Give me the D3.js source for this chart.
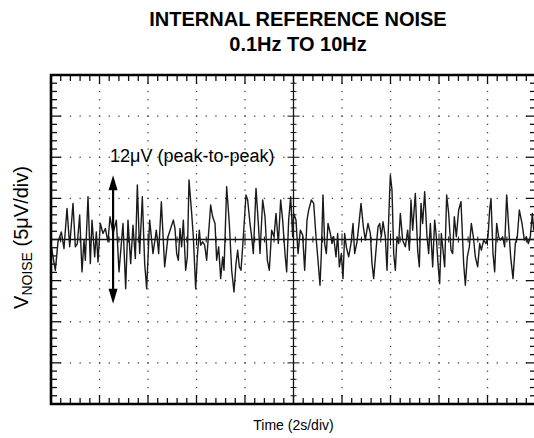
<!DOCTYPE html>
<html>
<head>
<meta charset="utf-8">
<script src="https://cdn.jsdelivr.net/npm/d3@7"></script>
<style>
  html, body { margin: 0; padding: 0; background: #fff; }
  svg { display: block; font-family: "Liberation Sans", Arial, Helvetica, sans-serif; }
</style>
</head>
<body>
<svg id="chart" width="534" height="438"></svg>
<script>
// ---- data ----
const titleLines = ["INTERNAL REFERENCE NOISE", "0.1Hz TO 10Hz"];
const xLabel = "Time (2s/div)";
const annotationText = "12\u03BCV (peak-to-peak)";
const timeDomain = [0, 20];        // seconds (10 div x 2s)
const voltDomain = [-20, 20];      // µV (8 div x 5µV)
const majorTimeStep = 2;
const majorVoltStep = 5;
const minorTimeStep = 0.4;
const minorVoltStep = 1;
const arrowTime = 2.56;
const arrowVolts = [7.8, -7.8];

const noiseTime = [
0.014,0.179,0.289,0.426,0.536,0.660,0.770,0.907,1.003,1.086,1.182,1.278,1.361,1.416,1.526,1.622,1.691,1.801,1.869,1.938,
2.034,2.144,2.241,2.351,2.433,2.557,2.694,2.804,2.969,3.079,3.175,3.285,3.381,3.478,3.560,3.656,3.766,3.863,3.945,4.069,
4.206,4.344,4.440,4.550,4.687,4.825,
5.045,5.113,5.182,5.251,5.320,5.388,5.457,5.553,5.622,5.691,5.801,5.869,5.966,6.034,6.117,6.172,6.254,6.337,6.419,6.488,
6.584,6.667,6.763,6.832,6.914,6.997,7.079,7.134,7.244,7.354,7.450,7.546,7.629,7.698,7.766,7.835,7.904,8.041,8.110,8.206,
8.275,8.344,8.454,8.550,8.619,8.729,8.825,8.921,9.003,9.100,9.196,9.278,9.375,9.471,9.553,9.649,9.718,9.801,9.883,9.966,
10.007,10.103,10.186,10.282,10.378,10.460,10.557,10.625,10.735,10.832,10.928,11.010,11.093,11.148,11.216,11.285,11.354,11.423,11.519,11.588,
11.656,11.753,11.821,11.890,11.973,12.041,12.110,12.179,12.275,12.371,12.454,12.522,12.619,12.687,12.784,12.880,12.962,13.072,13.168,13.237,
13.306,13.402,13.485,13.553,13.622,13.691,13.787,13.856,13.924,13.993,14.062,14.131,14.199,14.268,14.337,14.405,14.502,14.612,14.708,14.777,
14.845,14.914,
15.024,15.120,15.189,15.258,15.326,15.409,15.505,15.574,15.643,15.739,15.821,15.890,15.959,16.027,16.096,16.151,16.234,16.316,16.399,16.495,
16.564,16.632,16.715,16.811,16.907,17.017,17.086,17.168,17.251,17.333,17.416,17.498,17.594,17.677,17.746,17.842,17.938,18.021,18.089,18.144,
18.227,18.296,18.378,18.460,18.529,18.625,18.708,18.790,18.873,18.955,19.052,19.148,19.230,19.313,19.423,19.519,19.601,19.684,19.766,19.849,
19.904
];
const noiseUV = [
-0.89,-3.74,-0.28,0.93,-1.10,3.78,-0.89,4.39,-0.89,-0.49,2.97,-3.94,-0.08,-2.52,5.20,-2.93,2.36,-2.11,0.93,-2.72,
1.95,0.73,1.34,-0.28,2.76,0.73,2.36,-3.94,1.95,-5.98,2.36,-2.93,1.75,-2.32,6.63,-1.71,5.20,-2.93,-5.98,2.36,
-1.71,1.14,-1.71,4.59,-3.33,0.33,
2.36,1.34,-1.71,-2.52,1.34,-0.89,2.36,-3.74,-2.11,7.24,3.17,0.33,-5.98,-2.11,1.14,-0.69,-0.28,-0.69,-2.52,0.33,
4.19,2.76,1.95,-2.52,-0.89,-4.76,-2.11,-3.74,6.42,1.95,-3.74,-6.38,-2.93,-1.30,-3.33,-3.74,-0.89,5.41,4.80,1.95,
0.33,-1.71,6.22,1.95,-1.71,4.80,2.76,-2.52,-3.74,1.14,0.33,3.17,-0.49,4.80,2.36,-1.71,-3.94,2.36,5.20,0.33,
3.17,2.36,-1.71,1.14,0.53,-3.74,2.36,3.58,4.80,4.39,0.33,-2.52,-5.57,-1.71,5.41,-0.49,-1.71,1.95,0.73,-0.49,
0.33,-2.11,0.73,-3.33,-1.71,-4.76,0.73,-0.89,-2.11,-0.49,1.95,-1.71,-0.28,1.54,4.39,1.54,-0.08,1.95,0.73,-2.93,
-4.76,-1.30,1.54,1.95,0.33,2.15,0.33,-3.74,2.36,7.85,6.02,-1.71,-3.74,0.33,-0.49,3.17,-0.08,-0.89,1.14,-1.30,
4.80,1.14,
5.61,-1.30,-3.33,4.39,1.95,5.81,0.33,-1.71,1.95,-3.33,2.36,0.33,-2.93,-5.37,0.73,-0.89,-3.33,5.41,3.17,-1.30,
-1.71,2.76,0.33,3.58,4.59,-2.93,-5.57,-2.11,-0.89,1.95,0.33,-2.11,-3.33,-0.49,-1.30,-0.08,-0.49,0.33,3.58,5.00,
-1.71,-3.94,1.95,0.33,-0.08,0.33,-0.89,5.41,1.54,-2.11,-4.76,-0.49,0.33,3.58,1.95,-0.08,0.33,-0.49,0.33,3.17,
1.14
];

// ---- drawing ----
const svg = d3.select("#chart");
const margin = { left: 51, top: 75, right: 536, bottom: 404 };
const x = d3.scaleLinear().domain(timeDomain).range([margin.left, margin.right]);
const y = d3.scaleLinear().domain(voltDomain).range([margin.bottom, margin.top]);

const ink = "#111";

// titles
svg.append("g").selectAll("text").data(titleLines).join("text")
  .attr("x", 298).attr("y", (d, i) => 26 + i * 25)
  .attr("text-anchor", "middle")
  .attr("font-size", 20).attr("font-weight", "bold").attr("fill", "#000")
  .text(d => d);

// dotted grid
const majorTimes = d3.range(timeDomain[0] + majorTimeStep, timeDomain[1], majorTimeStep).filter(t => t !== 10);
const majorVolts = d3.range(voltDomain[0] + majorVoltStep, voltDomain[1], majorVoltStep).filter(v => v !== 0);
const minorTimes = d3.range(timeDomain[0], timeDomain[1] + 1e-9, minorTimeStep).map(v => +v.toFixed(2));
const minorVolts = d3.range(voltDomain[0], voltDomain[1] + 1e-9, minorVoltStep);

const dots = [];
majorTimes.forEach(t => minorVolts.forEach(v => { if (v > voltDomain[0] && v < voltDomain[1]) dots.push([t, v]); }));
majorVolts.forEach(v => minorTimes.forEach(t => { if (t > timeDomain[0] && t < timeDomain[1]) dots.push([t, v]); }));
svg.append("g").selectAll("rect").data(dots).join("rect")
  .attr("x", d => x(d[0]) - 0.6).attr("y", d => y(d[1]) - 0.6)
  .attr("width", 1.3).attr("height", 1.3).attr("fill", "#444");

// center cross
const g = svg.append("g").attr("stroke", ink).attr("fill", "none");
g.append("line").attr("x1", x(timeDomain[0])).attr("x2", x(timeDomain[1]))
  .attr("y1", y(0)).attr("y2", y(0)).attr("stroke-width", 1.3);
g.append("line").attr("x1", x(10)).attr("x2", x(10))
  .attr("y1", y(voltDomain[0])).attr("y2", y(voltDomain[1])).attr("stroke-width", 1.3);

// ticks on center axes
const isMajorT = t => Math.abs(t / majorTimeStep - Math.round(t / majorTimeStep)) < 1e-6;
const isMajorV = v => Math.abs(v / majorVoltStep - Math.round(v / majorVoltStep)) < 1e-6;
g.selectAll(".cvt").data(minorVolts).join("line")
  .attr("x1", v => x(10) - (isMajorV(v) ? 6 : 3)).attr("x2", v => x(10) + (isMajorV(v) ? 6 : 3))
  .attr("y1", v => y(v)).attr("y2", v => y(v)).attr("stroke-width", 1);
g.selectAll(".cht").data(minorTimes).join("line")
  .attr("x1", t => x(t)).attr("x2", t => x(t))
  .attr("y1", t => y(0) - (isMajorT(t) ? 6 : 3)).attr("y2", t => y(0) + (isMajorT(t) ? 6 : 3)).attr("stroke-width", 1);

// frame ticks
const tk = svg.append("g").attr("stroke", ink).attr("stroke-width", 1.3);
tk.selectAll(".lt").data(minorVolts).join("line")
  .attr("x1", x(0)).attr("x2", v => x(0) + (isMajorV(v) ? 10 : 6))
  .attr("y1", v => y(v)).attr("y2", v => y(v));
tk.selectAll(".rt").data(minorVolts).join("line")
  .attr("x1", x(20)).attr("x2", v => x(20) - (isMajorV(v) ? 10 : 6))
  .attr("y1", v => y(v)).attr("y2", v => y(v));
tk.selectAll(".bt").data(minorTimes).join("line")
  .attr("x1", t => x(t)).attr("x2", t => x(t))
  .attr("y1", y(voltDomain[0])).attr("y2", t => y(voltDomain[0]) - (isMajorT(t) ? 9 : 6));
tk.selectAll(".tt").data(minorTimes).join("line")
  .attr("x1", t => x(t)).attr("x2", t => x(t))
  .attr("y1", y(voltDomain[1])).attr("y2", t => y(voltDomain[1]) + (isMajorT(t) ? 9 : 6));

// noise trace
svg.append("defs").append("clipPath").attr("id", "clip")
  .append("rect").attr("x", x(0)).attr("y", y(20)).attr("width", x(20) - x(0)).attr("height", y(-20) - y(20));
const line = d3.line().x((d, i) => x(noiseTime[i])).y((d, i) => y(noiseUV[i]));
svg.append("path").datum(noiseUV)
  .attr("clip-path", "url(#clip)")
  .attr("d", line).attr("fill", "none").attr("stroke", "#1a1a1a").attr("stroke-width", 1.4)
  .attr("stroke-linejoin", "round");

// frame border
const fr = svg.append("g").attr("stroke", "#000").attr("stroke-width", 2.6).attr("fill", "none");
fr.append("path").attr("d", `M${x(20)},${y(20)} L${x(0)},${y(20)} L${x(0)},${y(-20)} L${x(20)},${y(-20)} Z`);

// arrow annotation
const ax = x(arrowTime);
svg.append("line").attr("x1", ax).attr("x2", ax)
  .attr("y1", y(arrowVolts[0]) + 10).attr("y2", y(arrowVolts[1]) - 10)
  .attr("stroke", "#000").attr("stroke-width", 2.2);
const headLen = 15, headHalf = 4.5;
svg.append("path").attr("fill", "#000")
  .attr("d", `M${ax},${y(arrowVolts[0])} L${ax - headHalf},${y(arrowVolts[0]) + headLen} L${ax + headHalf},${y(arrowVolts[0]) + headLen} Z`);
svg.append("path").attr("fill", "#000")
  .attr("d", `M${ax},${y(arrowVolts[1])} L${ax - headHalf},${y(arrowVolts[1]) - headLen} L${ax + headHalf},${y(arrowVolts[1]) - headLen} Z`);
svg.append("text").attr("x", ax - 3).attr("y", 162)
  .attr("font-size", 18).attr("fill", "#000").text(annotationText);

// axis labels
svg.append("text").attr("x", x(10)).attr("y", 430).attr("text-anchor", "middle")
  .attr("font-size", 14).attr("fill", "#000").text(xLabel);

const yl = svg.append("text").attr("transform", `translate(28,${y(0) - 2}) rotate(-90)`)
  .attr("text-anchor", "middle").attr("font-size", 20).attr("fill", "#000");
yl.append("tspan").text("V");
yl.append("tspan").attr("font-size", 14).attr("dy", 4).text("NOISE");
yl.append("tspan").attr("dy", -4).text(" (5\u03BCV/div)");
</script>
</body>
</html>
